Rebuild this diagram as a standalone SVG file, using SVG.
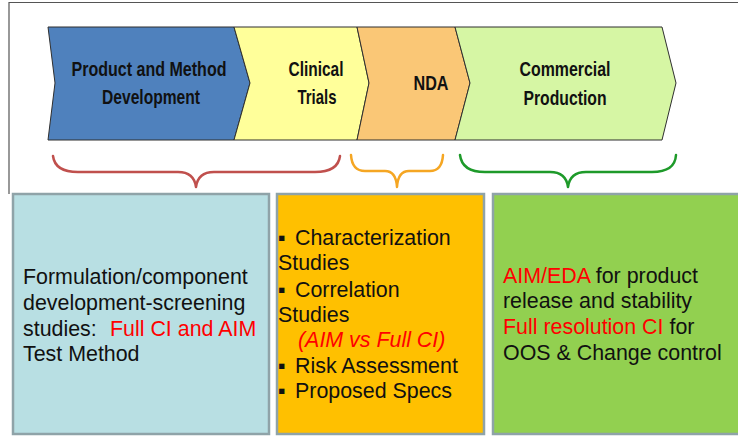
<svg xmlns="http://www.w3.org/2000/svg" width="738" height="436" viewBox="0 0 738 436">
  <style>
    .stage { stroke: #2f2f2f; stroke-width: 1; stroke-linejoin: miter; }
    .stage-label { font-family: "Liberation Sans", Arial, sans-serif; font-weight: bold; font-size: 21px; fill: #111111; text-anchor: middle; }
    .brace { fill: none; stroke-width: 2.5; stroke-linecap: round; stroke-linejoin: round; }
    .box { stroke: #8fa3a8; stroke-width: 2.5; }
    .body { font-family: "Liberation Sans", Arial, sans-serif; font-size: 21.4px; fill: #111111; }
    .hl { fill: #ff0000; }
  </style>

  <rect width="738" height="436" fill="#ffffff"/>
  <!-- slide frame -->
  <polyline points="9,194 9,2.5 738,2.5" fill="none" stroke="#555555" stroke-width="1.2"/>

  <!-- process chevrons -->
  <g id="stage-development">
    <polygon class="stage" points="48,27 234,27 250,83 234,140 48,140 55,83" fill="#4f81bd"/>
    <text class="stage-label" x="149" y="76" textLength="155" lengthAdjust="spacingAndGlyphs">Product and Method</text>
    <text class="stage-label" x="151" y="104" textLength="98" lengthAdjust="spacingAndGlyphs">Development</text>
  </g>
  <g id="stage-clinical">
    <polygon class="stage" points="234,27 357,27 369,83 357,140 234,140 250,83" fill="#ffff9a"/>
    <text class="stage-label" x="316" y="76" textLength="55" lengthAdjust="spacingAndGlyphs">Clinical</text>
    <text class="stage-label" x="317" y="104" textLength="39" lengthAdjust="spacingAndGlyphs">Trials</text>
  </g>
  <g id="stage-nda">
    <polygon class="stage" points="357,27 455,27 470,83 455,140 357,140 369,83" fill="#fac776"/>
    <text class="stage-label" x="431" y="90" textLength="35" lengthAdjust="spacingAndGlyphs">NDA</text>
  </g>
  <g id="stage-commercial">
    <polygon class="stage" points="455,27 662,27 676,83 662,140 455,140 470,83" fill="#d6f6a4"/>
    <text class="stage-label" x="565" y="76" textLength="91" lengthAdjust="spacingAndGlyphs">Commercial</text>
    <text class="stage-label" x="565" y="105" textLength="83" lengthAdjust="spacingAndGlyphs">Production</text>
  </g>

  <!-- braces linking stages to detail boxes -->
  <g id="connectors">
    <path class="brace" stroke="#c0504d" d="M53,156 Q55,172 78,172 L178,172 Q194,172 196,187 Q198,172 214,172 L315,172 Q338,172 340,156"/>
    <path class="brace" stroke="#f5a623" d="M351,155 Q352,171 365,171 L385,171 Q396,171 397,187 Q398,171 409,171 L430,171 Q442,171 443,155"/>
    <path class="brace" stroke="#1e9a2a" d="M460,155 Q462,172 485,172 L550,172 Q566,172 568,187 Q570,172 586,172 L652,172 Q675,172 676,155"/>
  </g>

  <!-- detail boxes -->
  <g id="box-development">
    <rect class="box" x="13" y="194" width="256" height="240" fill="#b8dfe3"/>
    <text class="body" x="23" y="284">Formulation/component</text>
    <text class="body" x="23" y="310">development-screening</text>
    <text class="body" x="23" y="336">studies:<tspan class="hl" x="110">Full CI and AIM</tspan></text>
    <text class="body" x="23" y="361">Test Method</text>
  </g>

  <g id="box-nda">
    <rect class="box" x="277" y="194" width="207" height="240" fill="#ffc000"/>
    <g class="body">
      <text x="278" y="245">▪</text><text x="295" y="245">Characterization</text>
      <text x="278" y="270">Studies</text>
      <text x="278" y="297">▪</text><text x="295" y="297">Correlation</text>
      <text x="278" y="322">Studies</text>
      <text x="298" y="347" class="hl" font-style="italic">(AIM vs Full CI)</text>
      <text x="278" y="373">▪</text><text x="295" y="373">Risk Assessment</text>
      <text x="278" y="398">▪</text><text x="295" y="398">Proposed Specs</text>
    </g>
  </g>

  <g id="box-commercial">
    <rect class="box" x="493" y="194" width="250" height="240" fill="#92d050"/>
    <text class="body" x="503" y="283"><tspan class="hl">AIM/EDA</tspan> for product</text>
    <text class="body" x="503" y="308">release and stability</text>
    <text class="body" x="503" y="334"><tspan class="hl">Full resolution CI</tspan> for</text>
    <text class="body" x="503" y="360">OOS &amp; Change control</text>
  </g>
</svg>
